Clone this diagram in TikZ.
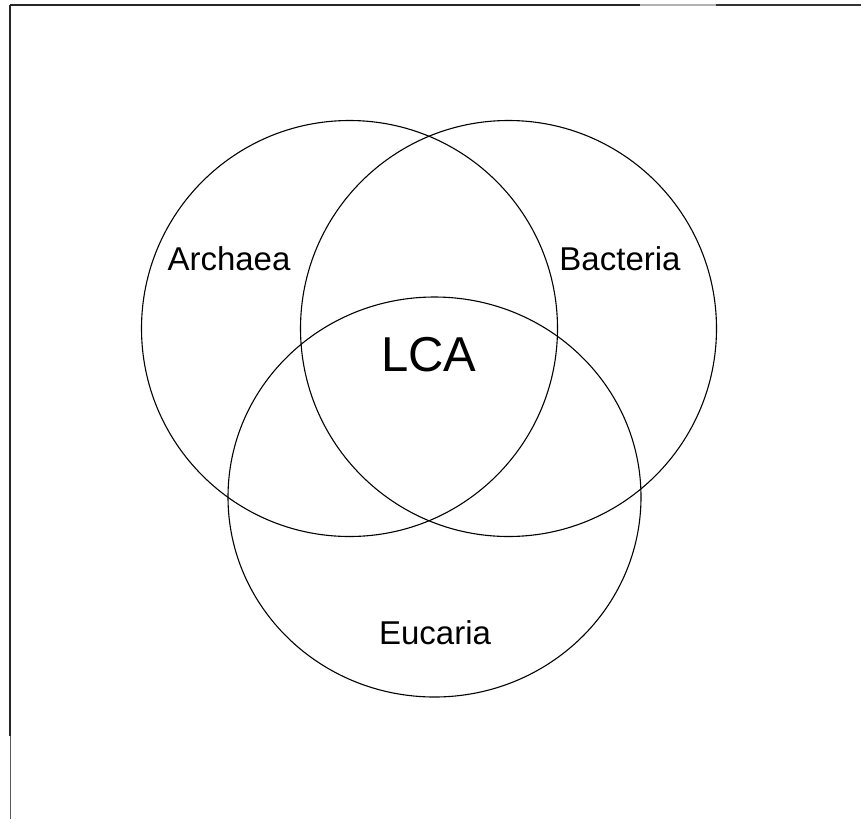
\documentclass[tikz,border=0pt]{standalone}
\usepackage{fontspec}
\setmainfont{Liberation Sans}
\usetikzlibrary{shapes.geometric}
\begin{document}
\begin{tikzpicture}[x=1pt,y=-1pt,
  ring/.style={draw=black,line width=1.1pt},
  lbl/.style={inner sep=0pt,font=\fontsize{33}{36}\selectfont},
  big/.style={inner sep=0pt,font=\fontsize{49}{52}\selectfont},
  frame/.style={line width=1.6pt,draw=black!85}]
\useasboundingbox (0,0) rectangle (861,819);
% frame
\coordinate (tl) at (10,5);
\coordinate (t1) at (640,5);
\coordinate (t2) at (716,5);
\coordinate (tr) at (861,5);
\coordinate (l1) at (10,736);
\coordinate (bl) at (10,819);
\draw[frame] (tl) -- (t1);
\draw[line width=1.2pt,draw=black!30] (t1) -- (t2);
\draw[line width=1.2pt,draw=black!80] (t2) -- (tr);
\draw[frame] (tl) -- (l1);
\draw[line width=1pt,draw=black!65] (l1) -- (bl);
% circles
\node[ring,circle,minimum size=416pt,inner sep=0pt] (arch) at (349.5,328.5) {};
\node[ring,circle,minimum size=416pt,inner sep=0pt] (bact) at (508.5,328.5) {};
\node[ring,ellipse,minimum width=413pt,minimum height=400pt,inner sep=0pt] (euca) at (434.5,497) {};
% labels
\node[lbl] (la) at (229,259) {Archaea};
\node[lbl] (lb) at (620,259) {Bacteria};
\node[big] (lc) at (429,355) {LCA};
\node[lbl] (le) at (435,633) {Eucaria};
\end{tikzpicture}
\end{document}
